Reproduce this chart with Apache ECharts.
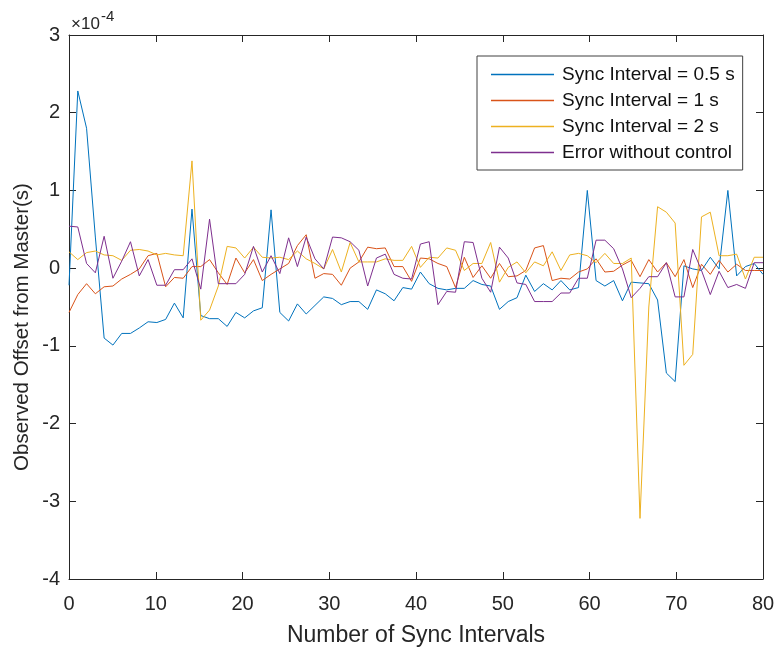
<!DOCTYPE html>
<html>
<head>
<meta charset="utf-8">
<script src="https://cdn.jsdelivr.net/npm/echarts@6/dist/echarts.min.js"></script>
<style>html,body{margin:0;padding:0;background:#fff}#c{width:778px;height:652px}</style>
</head>
<body>
<div id="c"></div>
<script>
// values are in units of 1e-4 s (axis shows x10^-4)
const seriesNames = ['Sync Interval = 0.5 s', 'Sync Interval = 1 s', 'Sync Interval = 2 s', 'Error without control'];
const xTicks = [0, 10, 20, 30, 40, 50, 60, 70, 80];
const yTicks = [-4, -3, -2, -1, 0, 1, 2, 3];
const sync05 = [-0.22, 2.28, 1.80, 0.40, -0.90, -0.99, -0.84, -0.84, -0.77, -0.69, -0.70, -0.66, -0.45, -0.64, 0.76, -0.61, -0.65, -0.65, -0.75, -0.57,
  -0.64, -0.55, -0.51, 0.75, -0.57, -0.68, -0.46, -0.59, -0.48, -0.37, -0.39, -0.47, -0.43, -0.43, -0.53, -0.28, -0.33, -0.42, -0.25, -0.27,
  -0.05, -0.20, -0.26, -0.28, -0.26, -0.26, -0.16, -0.21, -0.23, -0.53, -0.43, -0.38, -0.09, -0.30, -0.20, -0.28, -0.16, -0.28, -0.25, 1.00,
  -0.16, -0.23, -0.16, -0.42, -0.18, -0.19, -0.20, -0.41, -1.35, -1.46, 0.03, -0.01, -0.03, 0.14, -0.01, 1.00, -0.10, 0.02, 0.06, -0.08];
const sync1 = [-0.57, -0.34, -0.20, -0.33, -0.24, -0.23, -0.14, -0.08, -0.01, 0.16, 0.19, -0.24, -0.12, -0.13, 0.02, 0.02, 0.11, -0.06, -0.21, 0.13,
  -0.06, 0.11, -0.16, -0.08, -0.01, 0.06, 0.29, 0.43, -0.13, -0.07, -0.08, -0.22, 0.00, 0.08, 0.27, 0.25, 0.26, 0.02, 0.02, -0.17,
  0.13, 0.12, 0.06, 0.02, -0.25, 0.14, -0.12, 0.03, -0.13, 0.06, -0.11, -0.10, -0.03, 0.26, 0.29, -0.16, -0.13, -0.14, -0.05, -0.01,
  0.12, -0.05, -0.04, 0.04, 0.10, -0.11, 0.11, -0.05, 0.07, -0.11, 0.11, -0.25, 0.05, -0.08, 0.10, -0.05, 0.05, -0.03, -0.03, -0.03];
const sync2 = [0.21, 0.11, 0.20, 0.22, 0.17, 0.16, 0.10, 0.23, 0.24, 0.22, 0.17, 0.19, 0.17, 0.16, 1.38, -0.67, -0.54, -0.23, 0.28, 0.26,
  0.13, 0.27, 0.14, 0.13, 0.14, 0.11, 0.22, 0.12, 0.06, -0.01, 0.24, -0.05, 0.33, 0.08, 0.08, 0.08, 0.12, 0.10, 0.10, 0.28,
  0.01, 0.14, 0.13, 0.26, 0.23, -0.03, 0.06, 0.06, 0.33, -0.18, 0.01, 0.08, -0.06, 0.08, 0.03, 0.21, -0.03, 0.17, 0.19, 0.16,
  0.07, 0.19, 0.06, 0.06, 0.13, -3.22, -0.50, 0.79, 0.72, 0.58, -1.25, -1.11, 0.66, 0.72, 0.16, 0.16, 0.18, -0.14, 0.14, 0.14];
const noControl = [0.54, 0.53, 0.06, -0.06, 0.41, -0.13, 0.09, 0.34, -0.10, 0.11, -0.22, -0.22, -0.02, -0.02, 0.12, -0.27, 0.63, -0.20, -0.20, -0.20,
  -0.08, 0.28, -0.05, 0.16, -0.07, 0.39, 0.02, 0.40, 0.12, -0.01, 0.40, 0.39, 0.34, 0.23, -0.23, 0.13, 0.18, -0.08, -0.13, -0.14,
  0.31, 0.34, -0.47, -0.30, -0.31, 0.34, 0.33, -0.13, -0.31, 0.27, 0.13, -0.19, -0.21, -0.43, -0.43, -0.43, -0.32, -0.32, -0.13, -0.13,
  0.36, 0.36, 0.25, -0.01, -0.38, -0.26, -0.11, -0.11, 0.07, -0.37, -0.37, 0.24, -0.03, -0.34, -0.04, -0.25, -0.21, -0.26, 0.07, 0.07];
const sampleIndex = sync05.map((_, i) => String(i + 1));
const colors = ['#0072BD', '#D95319', '#EDB120', '#7E2F8E'];

const chart = echarts.init(document.getElementById('c'), null, {renderer: 'canvas'});
const axisColor = '#262626';
const font = 'Liberation Sans, Arial, Helvetica, sans-serif';
const tickStyle = {show: true, inside: true, length: 7, lineStyle: {color: axisColor, width: 1}};
const lineStyleAxis = {show: true, onZero: false, lineStyle: {color: axisColor, width: 1}};
const allData = [sync05, sync1, sync2, noControl];

chart.setOption({
  animation: false,
  backgroundColor: '#fff',
  grid: {left: 69, right: 15, top: 35, bottom: 70, containLabel: false},
  xAxis: [
    {type: 'value', min: 0, max: 80, interval: 10, position: 'bottom', axisLine: lineStyleAxis, axisTick: tickStyle,
     splitLine: {show: false},
     axisLabel: {color: axisColor, fontSize: 20, fontFamily: font, margin: 15,
                 formatter: v => xTicks.includes(v) ? String(v) : ''},
     name: 'Number of Sync Intervals', nameLocation: 'middle', nameGap: 45,
     nameTextStyle: {color: axisColor, fontSize: 23, fontFamily: font}},
    {type: 'value', min: 0, max: 80, interval: 10, position: 'top', axisLine: lineStyleAxis, axisTick: tickStyle,
     axisLabel: {show: false}, splitLine: {show: false}},
    {type: 'category', data: sampleIndex, boundaryGap: false, show: false}
  ],
  yAxis: [
    {type: 'value', min: -4, max: 3, interval: 1, position: 'left', axisLine: lineStyleAxis, axisTick: tickStyle,
     splitLine: {show: false},
     axisLabel: {color: axisColor, fontSize: 20, fontFamily: font, margin: 9,
                 formatter: v => yTicks.includes(v) ? String(v) : ''}},
    {type: 'value', min: -4, max: 3, interval: 1, position: 'right', axisLine: lineStyleAxis, axisTick: tickStyle,
     axisLabel: {show: false}, splitLine: {show: false}}
  ],
  legend: {
    orient: 'vertical', left: 477, top: 56,
    backgroundColor: '#fff', borderColor: '#404040', borderWidth: 1,
    padding: [9, 8, 8, 14],
    itemWidth: 63, itemHeight: 1.5, itemGap: 7, icon: 'rect',
    textStyle: {color: '#111', fontSize: 19, lineHeight: 19, fontFamily: font, padding: [0, 0, 0, 3]},
    data: seriesNames
  },
  graphic: [
    {type: 'text', x: 71, y: 24,
     style: {text: '×10', fontSize: 17, fontFamily: font, fill: axisColor, verticalAlign: 'middle'}},
    {type: 'text', x: 101, y: 17,
     style: {text: '-4', fontSize: 15, fontFamily: font, fill: axisColor, verticalAlign: 'middle'}},
    {type: 'text', x: 22, y: 327, rotation: Math.PI / 2,
     style: {text: 'Observed Offset from Master(s)', fontSize: 20.5, fontFamily: font, fill: axisColor,
             align: 'center', verticalAlign: 'middle'}}
  ],
  series: seriesNames.map((name, k) => ({
    name, type: 'line', xAxisIndex: 2, yAxisIndex: 0, data: allData[k],
    showSymbol: false, symbol: 'none', color: colors[k],
    lineStyle: {width: 1, color: colors[k]}
  }))
});
</script>
</body>
</html>
